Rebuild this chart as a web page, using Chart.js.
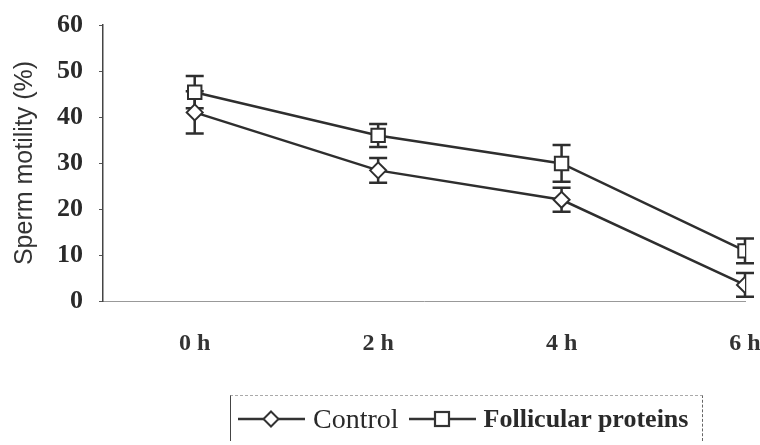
<!DOCTYPE html>
<html>
<head>
<meta charset="utf-8">
<script src="https://cdn.jsdelivr.net/npm/chart.js@4/dist/chart.umd.min.js"></script>
<style>
  html, body { margin: 0; padding: 0; background: #fff; }
  #wrap { position: relative; width: 760px; height: 445px; overflow: hidden; }
  .legend {
    position: absolute; left: 230px; top: 395px; width: 473px; height: 46px;
    border-left: 1.5px solid #444; border-top: 1px dashed #aaa; border-right: 1.5px dashed #666;
    display: flex; align-items: center; padding-left: 6px; box-sizing: border-box;
    font-family: 'Liberation Serif', 'Times New Roman', serif; color: #2a2a2a; white-space: nowrap;
  }
  .legend span.txt { font-size: 28px; margin: 0 9px 0 7px; }
  .legend span.bold { font-size: 26px; font-weight: bold; }
  .legend svg { display: block; }
</style>
</head>
<body>
<div id="wrap">
  <canvas id="chart" width="760" height="445"></canvas>
  <div class="legend">
    <svg width="69" height="20"><line x1="1" y1="10" x2="68" y2="10" stroke="#333" stroke-width="2.5"/><path d="M34 2.5 L41.5 10 L34 17.5 L26.5 10 Z" fill="#fff" stroke="#333" stroke-width="2"/></svg>
    <span class="txt">Control</span>
    <svg width="69" height="20"><line x1="1" y1="10" x2="68" y2="10" stroke="#333" stroke-width="2.5"/><rect x="27" y="3" width="14" height="14" fill="#fff" stroke="#333" stroke-width="2.2"/></svg>
    <span class="txt bold">Follicular proteins</span>
  </div>
</div>
<script>
const hourLabels      = ['0 h', '2 h', '4 h', '6 h']
const hourIndex       = [0, 1, 2, 3]
const controlValues   = [41.0, 28.4, 22.0, 3.5]
const controlErr      = [4.6, 2.7, 2.6, 2.6]
const follicValues    = [45.4, 36.0, 29.9, 10.9]
const follicErr       = [3.5, 2.5, 4.0, 2.7]
const yTicks          = [0, 10, 20, 30, 40, 50, 60]

const ink = '#2e2e2e'
const errors = [controlErr, follicErr]

// vertical error bars with caps, drawn under the markers
const errorBars = {
  id: 'errorBars',
  beforeDatasetsDraw(chart) {
    const { ctx, scales: { y } } = chart
    ctx.save()
    ctx.strokeStyle = ink
    ctx.lineWidth = 2.5
    chart.data.datasets.forEach((ds, di) => {
      const meta = chart.getDatasetMeta(di)
      meta.data.forEach((pt, i) => {
        const v = ds.data[i].y, e = errors[di][i]
        const top = y.getPixelForValue(v + e), bot = y.getPixelForValue(v - e)
        ctx.beginPath()
        ctx.moveTo(pt.x, top); ctx.lineTo(pt.x, bot)
        ctx.moveTo(pt.x - 9, top); ctx.lineTo(pt.x + 9, top)
        ctx.moveTo(pt.x - 9, bot); ctx.lineTo(pt.x + 9, bot)
        ctx.stroke()
      })
    })
    ctx.restore()
  },
}

new Chart(document.getElementById('chart'), {
  type: 'line',
  data: {
    datasets: [
      {
        label: 'Control',
        data: hourIndex.map((h, i) => ({ x: h, y: controlValues[i] })),
        borderColor: ink, borderWidth: 2.5,
        pointStyle: 'rectRot', pointRadius: 8, pointBorderWidth: 2,
        pointBackgroundColor: '#fff', pointBorderColor: ink,
      },
      {
        label: 'Follicular proteins',
        data: hourIndex.map((h, i) => ({ x: h, y: follicValues[i] })),
        borderColor: ink, borderWidth: 2.5,
        pointStyle: 'rect', pointRadius: 9.5, pointBorderWidth: 2,
        pointBackgroundColor: '#fff', pointBorderColor: ink,
      },
    ],
  },
  options: {
    responsive: false, animation: false,
    layout: { padding: { top: 25, right: 15, bottom: 0, left: 0 } },
    plugins: { legend: { display: false }, tooltip: { enabled: false } },
    scales: {
      x: {
        type: 'linear', min: -0.5, max: 3,
        afterBuildTicks: s => { s.ticks = hourIndex.map(v => ({ value: v })) },
        afterFit: s => { s.height = 144; s.paddingLeft = 0; s.paddingRight = 0 },
        ticks: {
          callback: v => hourLabels[v],
          color: '#333', padding: 28, maxRotation: 0,
          font: { family: "'Liberation Serif', serif", size: 24, weight: 'bold' },
        },
        grid: { display: false, drawTicks: false },
        border: { color: '#999', width: 1, dash: [10, 6] },
      },
      y: {
        min: 0, max: 60,
        afterBuildTicks: s => { s.ticks = yTicks.map(v => ({ value: v })) },
        afterFit: s => { s.width = 103; s.paddingTop = 0; s.paddingBottom = 0 },
        title: {
          display: true, text: 'Sperm motility (%)', color: '#333',
          font: { family: "'Liberation Sans', Arial, sans-serif", size: 25 },
          padding: { top: 10, bottom: 0 },
        },
        ticks: {
          color: '#2a2a2a', padding: 16,
          font: { family: "'Liberation Serif', serif", size: 26, weight: 'bold' },
        },
        grid: { drawOnChartArea: false, tickLength: 4, color: '#555' },
        border: { color: '#444', width: 1.5 },
      },
    },
  },
  plugins: [errorBars],
})
</script>
</body>
</html>
